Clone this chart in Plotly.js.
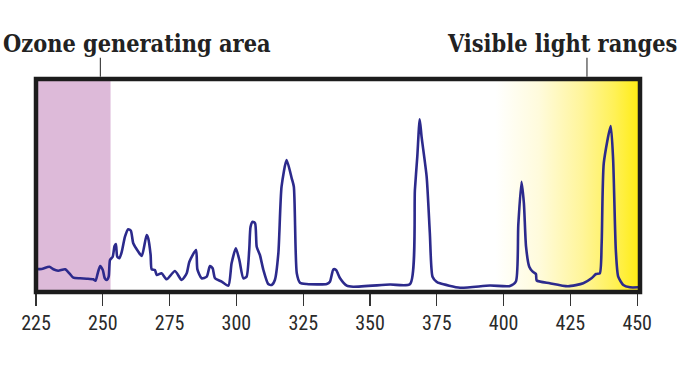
<!DOCTYPE html>
<html>
<head>
<meta charset="utf-8">
<script src="https://cdn.plot.ly/plotly-3.0.1.min.js"></script>
<style>html,body{margin:0;padding:0;background:#fff;}#chart{width:680px;height:380px;}</style>
</head>
<body>
<div id="chart"></div>
<script>
// Wavelength (nm)
const wavelength = [225.0,227.1,230.0,231.5,233.3,235.9,237.5,239.0,241.5,244.0,246.4,247.3,248.1,249.0,250.0,250.7,251.5,252.2,252.7,253.7,254.4,254.9,255.4,256.2,257.1,258.3,259.5,260.5,261.4,263.3,264.6,266.4,267.0,267.9,268.3,269.5,270.2,272.0,273.9,277.0,279.5,281.4,282.4,284.9,285.4,287.0,288.9,290.1,291.1,292.0,294.5,297.0,298.2,299.8,301.1,302.6,303.8,304.8,305.3,306.1,307.0,307.6,308.8,310.1,311.9,313.2,314.4,315.7,316.9,318.8,320.7,321.5,322.6,323.8,326.3,333.8,335.0,336.3,337.3,338.8,341.3,343.7,357.5,365.0,366.8,367.7,368.6,369.3,371.2,372.4,373.4,374.9,376.2,383.7,394.9,402.4,404.6,405.5,406.7,407.6,408.4,409.6,410.9,412.1,412.4,417.3,424.1,429.8,432.9,434.6,436.0,436.7,437.5,440.1,441.0,442.0,442.9,444.8,447.3,450.4];
// Relative intensity
const intensity = [23,23,25.3,22.7,21.3,22.7,18.7,14.3,13.7,13.3,12.7,11.3,18.7,26,22,14,12,15.3,32,35.3,46,48,35.3,33.7,40.3,55.3,62.7,61.3,48.7,40.3,36,57,53.7,37,22.7,22,17,18.7,12.7,21,12,18.7,30.3,42,22.7,13.7,15.3,26,23.7,13.7,10.3,6.3,28.7,43.7,32,13.7,15.3,42,65.3,70.3,68.7,45.3,37,22,8,7,12,38.7,105.3,132,113.7,105.3,18.7,9.3,8,8,10.3,22.7,22,13.7,6.3,5.3,7.5,8,102,135.3,172.7,155.3,115.3,58.7,15.3,10.3,8.7,4.3,6.5,6,10.5,67,110.3,88.7,45.3,25.3,20.3,18,11.5,8.7,5.7,8.7,13.7,18,18.7,48.7,129,166,132,42,15.3,7,4.7,4.7];
const tickValues = [225,250,275,300,325,350,375,400,425,450];
const tickLabels = ["225","250","275","300","325","350","375","400","425","450"];
const ozoneRange = [225, 252.9];
const visibleRange = [397, 451.05];
const titleLeft = "Ozone generating area";
const titleRight = "Visible light ranges";

const yMax = 213;
const gradientTrace = {
  x: [visibleRange[0], visibleRange[1], visibleRange[1], visibleRange[0], visibleRange[0]],
  y: [0, 0, yMax, yMax, 0],
  mode: 'none', fill: 'toself', hoverinfo: 'skip', showlegend: false,
  fillgradient: {type: 'horizontal', start: visibleRange[0], stop: visibleRange[1],
    colorscale: [[0,'rgba(255,255,255,1)'],[0.3,'#fffbdc'],[0.6,'#fff59a'],[0.82,'#fff158'],[1,'#ffec10']]}
};
const spectrum = {
  x: wavelength, y: intensity, mode: 'lines', showlegend: false,
  line: {color: '#2c2a8c', width: 2.6, shape: 'spline', smoothing: 0.6}
};
const layout = {
  width: 680, height: 380,
  margin: {l: 36, r: 40, t: 79, b: 88},
  paper_bgcolor: '#ffffff', plot_bgcolor: 'rgba(0,0,0,0)',
  xaxis: {range: [225, 451.05], tickvals: tickValues, ticktext: tickLabels, ticks: 'outside', ticklen: 13, tickwidth: 1.3, tickcolor: '#333',
    showgrid: false, zeroline: false, showline: false, fixedrange: true,
    tickfont: {family: '"Liberation Sans Narrow", "Roboto Condensed", "DejaVu Sans Condensed", sans-serif', size: 20, color: '#2a2a2a'}},
  yaxis: {range: [0, yMax], visible: false, fixedrange: true},
  shapes: [
    {type: 'rect', xref: 'x', yref: 'paper', x0: ozoneRange[0], x1: ozoneRange[1], y0: 0, y1: 1, fillcolor: '#ddbad9', line: {width: 0}, layer: 'below'},
    {type: 'rect', xref: 'paper', yref: 'paper', x0: 0, x1: 1, y0: 0, y1: 1, line: {color: '#1c1c1c', width: 4.5}, layer: 'above'},
    {type: 'line', xref: 'x', yref: 'paper', x0: 249.1, x1: 249.1, y0: 1.01, y1: 1.10, line: {color: '#444', width: 1.2}},
    {type: 'line', xref: 'x', yref: 'paper', x0: 431.2, x1: 431.2, y0: 1.01, y1: 1.10, line: {color: '#444', width: 1.2}}
  ],
  annotations: [
    {text: titleLeft, xref: 'paper', yref: 'paper', x: -0.058, y: 1.165, xanchor: 'left', yanchor: 'middle', showarrow: false,
      font: {family: '"DejaVu Serif Condensed", "DejaVu Serif", serif', weight: 'bold', size: 23.3, color: '#222'}},
    {text: titleRight, xref: 'paper', yref: 'paper', x: 1.064, y: 1.165, xanchor: 'right', yanchor: 'middle', showarrow: false,
      font: {family: '"DejaVu Serif Condensed", "DejaVu Serif", serif', weight: 'bold', size: 23.3, color: '#222'}}
  ]
};
Plotly.newPlot('chart', [gradientTrace, spectrum], layout, {staticPlot: true, displayModeBar: false});
</script>
</body>
</html>
